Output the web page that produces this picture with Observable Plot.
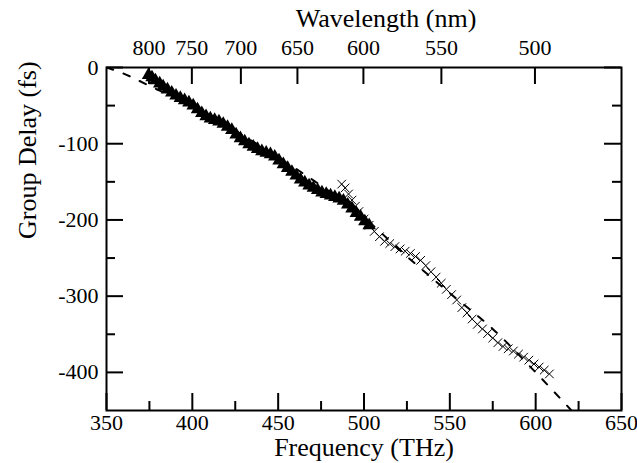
<!DOCTYPE html>
<html>
<head>
<meta charset="utf-8">
<script src="https://cdn.jsdelivr.net/npm/d3@7"></script>
<script src="https://cdn.jsdelivr.net/npm/@observablehq/plot@0.6"></script>
<style>
  html, body { margin: 0; padding: 0; background: #fff; }
  #chart { width: 637px; height: 463px; }
</style>
</head>
<body>
<div id="chart"></div>
<script>
// Triangles series (frequency THz, group delay fs)
const triFreq = [374.5,376.5,378.5,381,383,385.5,388,390.5,393,395.5,398,400.5,403,405.5,408,410.5,413,415.5,418,420.5,423,425.5,428,430.5,433,435.5,438,440.5,443,445.5,448,450.5,453,455.5,458,460.5,463,465.5,468,470.5,473,475.5,478,480.5,483,485.5,488,490.5,493,495.5,498,500.5,503];
const triDelay = [-10,-13,-17,-21,-25,-29,-33,-37,-40,-43,-46,-50,-55,-60,-64,-67,-69,-71,-74,-78,-82,-88,-93,-97,-101,-104,-107,-110,-112,-114,-117,-122,-127,-132,-137,-142,-147,-151,-155,-158,-161,-164,-166,-168,-170,-172,-175,-180,-185,-191,-196,-202,-207];

// Crosses series
const crossFreq = [487,489,491,493,495,497,500,503,506,509,512,515,518,521,524,527,530,533,536,539,542,545,548,551,554,557,560,563,566,569,572,575,578,581,584,587,590,593,596,599,602,605,608];
const crossDelay = [-153,-158,-166,-174,-182,-189,-199,-207,-215,-222,-228,-231,-235,-238,-241,-244,-248,-253,-260,-268,-275,-283,-291,-298,-305,-315,-322,-330,-337,-343,-349,-355,-361,-366,-369,-372,-376,-380,-384,-389,-393,-397,-402];

// Dashed fit curve
const fitFreq = [350,360,375,400,425,450,475,500,525,550,575,600,625];
const fitDelay = [0,-8,-24,-51,-83,-118,-155,-197,-248,-296,-343,-400,-460];

// Axis ticks
const xMajor = [350,400,450,500,550,600,650];
const xMinor = [375,425,475,525,575,625];
const yMajor = [0,-100,-200,-300,-400];
const yMinor = [-50,-150,-250,-350];
const wavelengthTicks = [800,750,700,650,600,550,500];
const C_NM_THZ = 299792.458; // c in nm·THz

const tri = triFreq.map((f, i) => ({f, d: triDelay[i]}));
const cross = crossFreq.map((f, i) => ({f, d: crossDelay[i]}));
const fit = fitFreq.map((f, i) => ({f, d: fitDelay[i]}));

const W = 637, H = 463;
const mT = 67, mB = 53, mL = 106, mR = 16;
const pw = W - mL - mR, ph = H - mT - mB;
const major = 17, minor = 9;
const tickFont = 22, titleFont = 26;
const FF = "Liberation Serif, DejaVu Serif, Times New Roman, Times, serif";

const chart = Plot.plot({
  width: W, height: H,
  marginTop: mT, marginBottom: mB, marginLeft: mL, marginRight: mR,
  style: `font-family: ${FF}; background: white; color: black; overflow: visible;`,
  x: {domain: [350, 650], axis: null},
  y: {domain: [-450, 0], axis: null},
  marks: [
    // bottom ticks
    Plot.ruleX(xMajor, {x: d => d, insetTop: ph - major, strokeWidth: 2}),
    Plot.ruleX(xMinor, {x: d => d, insetTop: ph - minor, strokeWidth: 2}),
    // top (wavelength) ticks
    Plot.ruleX(wavelengthTicks, {x: d => C_NM_THZ / d, insetBottom: ph - major, strokeWidth: 2}),
    // left ticks
    Plot.ruleY(yMajor, {y: d => d, insetRight: pw - major, strokeWidth: 2}),
    Plot.ruleY(yMinor, {y: d => d, insetRight: pw - minor, strokeWidth: 2}),
    // right ticks
    Plot.ruleY(yMajor, {y: d => d, insetLeft: pw - major, strokeWidth: 2}),
    Plot.ruleY(yMinor, {y: d => d, insetLeft: pw - minor, strokeWidth: 2}),
    Plot.frame({strokeWidth: 2}),
    // tick labels
    Plot.text(xMajor, {x: d => d, text: d => String(d), frameAnchor: "bottom", lineAnchor: "middle", dy: 12, fontSize: tickFont}),
    Plot.text(yMajor, {y: d => d, text: d => String(d), frameAnchor: "left", lineAnchor: "middle", dx: -8, textAnchor: "end", fontSize: tickFont}),
    Plot.text(wavelengthTicks, {x: d => C_NM_THZ / d, text: d => String(d), frameAnchor: "top", lineAnchor: "middle", dy: -20, fontSize: tickFont}),
    // axis titles
    Plot.text(["Frequency (THz)"], {text: d => d, frameAnchor: "bottom", lineAnchor: "middle", dy: 37, fontSize: titleFont}),
    Plot.text(["Wavelength (nm)"], {text: d => d, frameAnchor: "top", lineAnchor: "middle", dy: -49, dx: 22, fontSize: titleFont}),
    Plot.text(["Group Delay (fs)"], {text: d => d, frameAnchor: "left", lineAnchor: "middle", rotate: -90, dx: -79, fontSize: titleFont}),
    // dashed fit
    Plot.line(fit, {x: "f", y: "d", stroke: "black", strokeWidth: 2, strokeDasharray: "7,11", clip: true, curve: "catmull-rom"}),
    // data
    Plot.dot(tri, {x: "f", y: "d", symbol: "triangle", r: 5, fill: "black", stroke: "none"}),
    Plot.dot(cross, {x: "f", y: "d", symbol: "times", r: 4, stroke: "black", strokeWidth: 1})
  ]
});
chart.querySelectorAll("text").forEach(t => t.setAttribute("font-family", FF));
document.getElementById("chart").appendChild(chart);
</script>
</body>
</html>
